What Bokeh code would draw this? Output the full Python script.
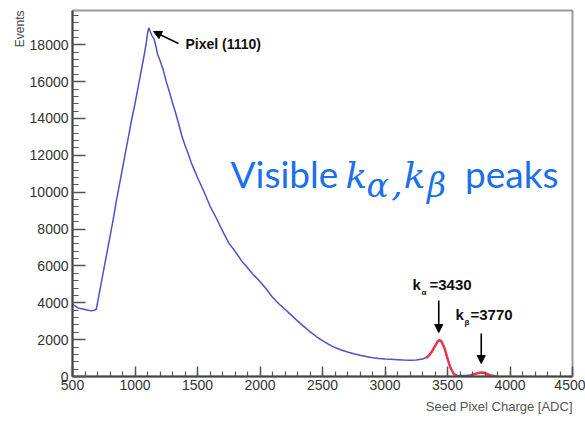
from bokeh.plotting import figure
from bokeh.models import (Range1d, SingleIntervalTicker, Label, Arrow, NormalHead, Title)
from bokeh.embed import file_html
from bokeh.resources import INLINE

# ---- data ----
charge = [500, 525, 550, 575, 600, 625, 650, 675, 690,
          700, 725, 750, 775, 800, 825, 850, 875, 900, 925, 950, 975, 1000,
          1025, 1050, 1075, 1090, 1100, 1110,
          1120, 1135, 1150, 1165, 1180, 1200, 1225, 1250, 1275, 1300, 1325,
          1350, 1375, 1400, 1425, 1450, 1475, 1500, 1550, 1600, 1650, 1700,
          1750, 1800, 1850, 1900, 1950, 2000, 2050, 2100, 2150, 2200, 2250,
          2300, 2350, 2400, 2450, 2500, 2550, 2600, 2650, 2700, 2750, 2800,
          2850, 2900, 2950, 3000, 3050, 3100, 3150, 3200, 3250, 3300, 3325,
          3350, 3375, 3400, 3425, 3450, 3475, 3500, 3525, 3550, 3575, 3600,
          3650, 3700, 3725, 3750, 3775, 3800, 3825, 3850, 3875, 3900]
events = [3920, 3800, 3700, 3680, 3640, 3600, 3560, 3600, 3650,
          4000, 4900, 5800, 6700, 7600, 8500, 9500, 10400, 11300, 12200, 13100, 14000, 14800,
          15700, 16600, 17500, 18100, 18600, 18920,
          18750, 18500, 18350, 18000, 17500, 17150, 16650, 16000, 15450, 14850, 14300,
          13700, 13050, 12550, 12100, 11600, 11200, 10800, 10050, 9250, 8600, 7900,
          7250, 6800, 6300, 5900, 5500, 5150, 4750, 4300, 3950, 3650, 3330,
          3020, 2720, 2430, 2170, 1950, 1740, 1570, 1440, 1330, 1230, 1150,
          1080, 1020, 980, 950, 930, 910, 890, 880, 900, 950, 1020,
          1150, 1350, 1650, 1950, 1900, 1550, 950, 450, 130, 60, 50,
          60, 90, 150, 200, 210, 160, 80, 40, 20, 10]

fit_a_x = [3330, 3350, 3375, 3400, 3425, 3440, 3450, 3475, 3500, 3525, 3550, 3575]
fit_a_y = [1000, 1130, 1350, 1650, 1930, 1970, 1920, 1560, 980, 460, 150, 40]
fit_b_x = [3680, 3700, 3725, 3750, 3770, 3790, 3810, 3830, 3850, 3880]
fit_b_y = [60, 90, 150, 195, 215, 200, 160, 100, 50, 10]

x_ticks_interval = 500
y_ticks_interval = 2000

p = figure(width=585, height=421, output_backend="svg", toolbar_location=None,
           x_range=Range1d(500, 4500), y_range=Range1d(0, 19860),
           min_border_left=72, min_border_right=13, min_border_top=10,
           min_border_bottom=45)
p.grid.visible = False
p.outline_line_color = "#9a9a9a"
p.outline_line_width = 2
p.background_fill_color = "white"
p.border_fill_color = "white"

p.xaxis.ticker = SingleIntervalTicker(interval=x_ticks_interval, num_minor_ticks=5)
p.yaxis.ticker = SingleIntervalTicker(interval=y_ticks_interval, num_minor_ticks=5)
for ax in (p.xaxis, p.yaxis):
    ax.axis_line_color = "#444444"
    ax.axis_line_width = 2
    ax.major_tick_line_color = "#555555"
    ax.minor_tick_line_color = "#555555"
    ax.major_tick_line_width = 1.5
    ax.minor_tick_line_width = 1.2
    ax.major_tick_out = 0
    ax.minor_tick_out = 0
    ax.major_label_text_font = "Liberation Sans"
    ax.major_label_text_font_size = "14px"
    ax.major_label_text_color = "#333333"
p.xaxis.major_tick_in = 10
p.xaxis.minor_tick_in = 5
p.yaxis.major_tick_in = 13
p.yaxis.minor_tick_in = 6
p.xaxis.major_label_standoff = 3
p.yaxis.major_label_standoff = 4

p.line(charge, events, line_color="#5050cc", line_width=1.5)
p.line(fit_a_x, fit_a_y, line_color="#e8394f", line_width=2.5)
p.line(fit_b_x, fit_b_y, line_color="#e8394f", line_width=2.5)

bold = dict(text_font="Liberation Sans", text_font_style="bold", text_color="#111111")

p.add_layout(Label(x=1404, y=18069, text="Pixel (1110)", text_font_size="14px",
                   text_baseline="middle", **bold))
p.add_layout(Arrow(x_start=1348, y_start=18069, x_end=1148, y_end=18720,
                   line_width=1.6, line_color="black",
                   end=NormalHead(size=8, fill_color="black", line_color="black")))

# k_alpha label
p.add_layout(Label(x=3220, y=4558, text="k", text_font_size="15px", **bold))
p.add_layout(Label(x=3292, y=4287, text="α", text_font_size="8px", **bold))
p.add_layout(Label(x=3356, y=4558, text="=3430", text_font_size="15px", **bold))
p.add_layout(Arrow(x_start=3430, y_start=4124, x_end=3430, y_end=2387,
                   line_width=1.6, line_color="black",
                   end=NormalHead(size=8, fill_color="black", line_color="black")))
# k_beta label
p.add_layout(Label(x=3564, y=2930, text="k", text_font_size="15px", **bold))
p.add_layout(Label(x=3636, y=2659, text="β", text_font_size="8px", **bold))
p.add_layout(Label(x=3684, y=2930, text="=3770", text_font_size="15px", **bold))
p.add_layout(Arrow(x_start=3770, y_start=2333, x_end=3770, y_end=705,
                   line_width=1.6, line_color="black",
                   end=NormalHead(size=8, fill_color="black", line_color="black")))

# big blue annotation
blue = "#1c70ea"
p.add_layout(Label(x=1764, y=9821, text="Visible", text_font="Lato",
                   text_font_size="37px", text_color=blue))
serif = dict(text_font="DejaVu Serif", text_font_style="italic", text_color=blue)
p.add_layout(Label(x=2684, y=9821, text="k", text_font_size="36px", **serif))
p.add_layout(Label(x=2852, y=9300, text="α", text_font_size="33px", **serif))
p.add_layout(Label(x=3050, y=9821, text=",", text_font_size="36px", **serif))
p.add_layout(Label(x=3150, y=9821, text="k", text_font_size="36px", **serif))
p.add_layout(Label(x=3336, y=9300, text="β", text_font_size="33px", **serif))
p.add_layout(Label(x=3640, y=9821, text="peaks", text_font="Lato",
                   text_font_size="37px", text_color=blue))

# axis titles
p.add_layout(Title(text="Events", align="right", text_font="Liberation Sans",
                   text_font_size="12px", text_font_style="normal",
                   text_color="#444444", standoff=0, offset=0), "left")
p.add_layout(Title(text="Seed Pixel Charge [ADC]", align="right",
                   text_font="Liberation Sans", text_font_size="13px",
                   text_font_style="normal", text_color="#555555",
                   standoff=8), "below")

open("out.html", "w").write(file_html(p, INLINE))
